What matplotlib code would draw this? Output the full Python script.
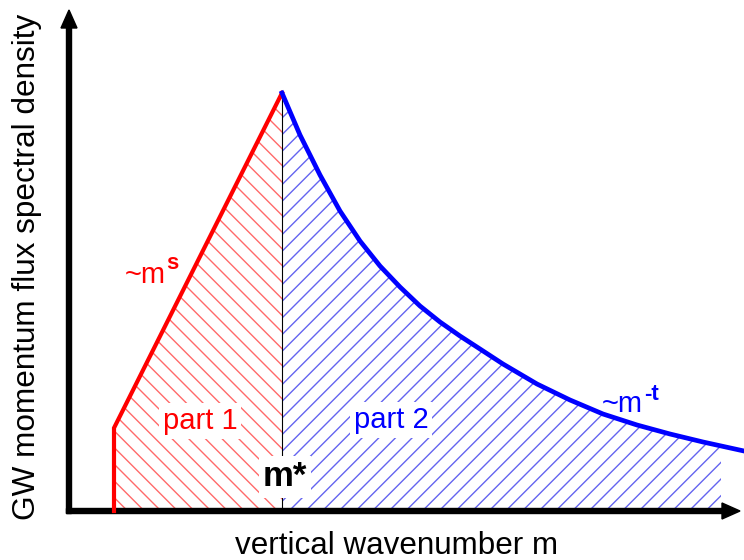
import numpy as np
import matplotlib
matplotlib.use("Agg")
import matplotlib.pyplot as plt
from matplotlib.patches import Rectangle

# Fonts / style
plt.rcParams['font.family'] = ['Liberation Sans', 'DejaVu Sans']
plt.rcParams['hatch.linewidth'] = 1.0

AXIS_X0 = 69
AXIS_Y0 = 49
M_TIP = 740
F_TIP = 550

m_part1 = [114, 114, 282]
f_part1 = [49, 132, 467]

m_part2 = [282, 300, 320, 340, 360, 380, 400, 420, 440, 460, 480, 503,
           537, 570, 603, 637, 670, 703, 744]
f_part2 = [467, 425, 385, 349, 319, 294, 273, 254, 238, 224, 211, 196,
           176, 160, 146, 135, 126, 118, 109]

M_STAR = 282
HATCH_END = 721

fig = plt.figure(figsize=(7.44, 5.6), dpi=100)
ax = fig.add_axes([0, 0, 1, 1])
ax.set_xlim(0, 744)
ax.set_ylim(0, 560)
ax.axis('off')

# hatched areas
ax.fill_between(m_part1, AXIS_Y0, f_part1, facecolor='none',
                edgecolor='#ff6a6a', hatch='\\\\', linewidth=0)
blue_fill = ax.fill_between(m_part2, AXIS_Y0, f_part2, facecolor='none',
                            edgecolor='#6464f0', hatch='//', linewidth=0)
clip = Rectangle((M_STAR, 0), HATCH_END - M_STAR, 560, transform=ax.transData)
blue_fill.set_clip_path(clip)

# spectrum lines
ax.plot([M_STAR, M_STAR], [AXIS_Y0, f_part1[-1]], color='black', lw=0.8)
ax.plot(m_part1, f_part1, color='red', lw=3, solid_joinstyle='miter')
ax.plot(m_part2, f_part2, color='blue', lw=3.4, solid_joinstyle='round')

# axes arrows
ax.arrow(AXIS_X0, AXIS_Y0 - 2.5, 0, F_TIP - AXIS_Y0 + 2.5, width=5,
         head_width=16, head_length=18, length_includes_head=True,
         color='black')
ax.arrow(AXIS_X0 - 2.5, AXIS_Y0, M_TIP - AXIS_X0 + 2.5, 0, width=5,
         head_width=16, head_length=18, length_includes_head=True,
         color='black')

# labels
ax.text(27, 293, 'GW momentum flux spectral density', rotation=90,
        ha='center', va='center', fontsize=22.7)
ax.text(397, 6, 'vertical wavenumber m', ha='center', va='baseline',
        fontsize=22.6)

box = dict(facecolor='white', edgecolor='none', pad=3)
ax.text(200, 139, 'part 1', color='red', ha='center', va='center',
        fontsize=21, bbox=box)
ax.text(391, 140, 'part 2', color='blue', ha='center', va='center',
        fontsize=21, bbox=box)
ax.text(285, 83, 'm*', color='black', ha='center', va='center',
        fontsize=25, fontweight='bold', bbox=box)

t1 = ax.text(125, 277, '~m', color='red', ha='left', va='baseline',
             fontsize=21)
ax.annotate('s', xy=(1, 0), xycoords=t1, xytext=(0.5, 14.5),
            textcoords='offset points', color='red', fontsize=16,
            fontweight='bold', va='baseline', ha='left')
t2 = ax.text(602, 148, '~m', color='blue', ha='left', va='baseline',
             fontsize=21)
ax.annotate('-t', xy=(1, 0), xycoords=t2, xytext=(0.5, 13),
            textcoords='offset points', color='blue', fontsize=16,
            fontweight='bold', va='baseline', ha='left')

fig.savefig('out.png', dpi=100)
